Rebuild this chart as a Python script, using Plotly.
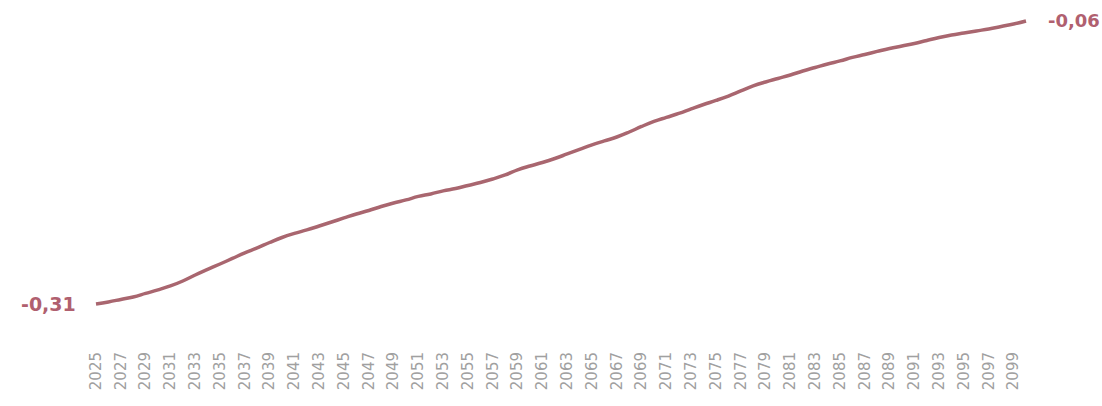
import plotly.graph_objects as go

years = list(range(2025, 2101))
values = [
    -0.3100, -0.3082, -0.3060, -0.3038, -0.3007, -0.2976, -0.2941, -0.2897, -0.2844, -0.2795,
    -0.2747, -0.2698, -0.2649, -0.2605, -0.2557, -0.2513, -0.2477, -0.2446, -0.2411, -0.2376,
    -0.2340, -0.2305, -0.2274, -0.2239, -0.2208, -0.2181, -0.2150, -0.2128, -0.2101, -0.2080,
    -0.2053, -0.2027, -0.1996, -0.1960, -0.1916, -0.1881, -0.1850, -0.1815, -0.1775, -0.1735,
    -0.1695, -0.1660, -0.1625, -0.1581, -0.1532, -0.1488, -0.1452, -0.1417, -0.1377, -0.1338,
    -0.1302, -0.1263, -0.1218, -0.1174, -0.1139, -0.1108, -0.1077, -0.1042, -0.1011, -0.0980,
    -0.0953, -0.0922, -0.0896, -0.0869, -0.0843, -0.0821, -0.0799, -0.0772, -0.0746, -0.0724,
    -0.0706, -0.0688, -0.0671, -0.0649, -0.0627, -0.0600,
]
tick_years = list(range(2025, 2100, 2))
tick_labels = [str(y) for y in tick_years]

LINE_COLOR = "#a9666f"
TEXT_COLOR = "#b0606f"


def fmt(v):
    return f"{v:.2f}".replace(".", ",")


fig = go.Figure()
fig.add_trace(go.Scatter(
    x=years, y=values, mode="lines",
    line=dict(color=LINE_COLOR, width=3.5, shape="spline", smoothing=1.3),
    hoverinfo="skip", showlegend=False,
))

fig.add_annotation(
    x=years[0], y=values[0], xref="x", yref="y", text=f"<b>{fmt(values[0])}</b>",
    showarrow=False, xanchor="right", yanchor="middle", xshift=-18,
    font=dict(family="DejaVu Sans", size=19, color=TEXT_COLOR),
)
fig.add_annotation(
    x=years[-1], y=values[-1], xref="x", yref="y", text=f"<b>{fmt(values[-1])}</b>",
    showarrow=False, xanchor="left", yanchor="middle", xshift=20,
    font=dict(family="DejaVu Sans", size=18, color=TEXT_COLOR),
)

fig.update_layout(
    width=1102, height=406,
    margin=dict(l=80, r=60, t=5, b=76),
    paper_bgcolor="white", plot_bgcolor="white",
    xaxis=dict(
        range=[2023.71, 2101.29], tickmode="array", tickvals=tick_years, ticktext=tick_labels,
        tickangle=-90, showgrid=False, zeroline=False, showline=False, ticks="",
        tickfont=dict(family="DejaVu Sans", size=15, color="#a0a0a0"),
        ticklabelstandoff=18,
    ),
    yaxis=dict(
        range=[-0.333, -0.0459], visible=False, showgrid=False, zeroline=False,
    ),
)

fig.write_html("out.html")
